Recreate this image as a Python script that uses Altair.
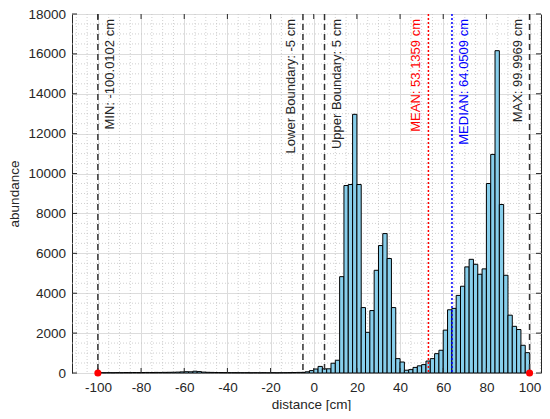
import altair as alt
import pandas as pd

FONT = "Liberation Sans"
AX = "#262626"

# ---------------- data ----------------
bin_width = 2
bin_starts = list(range(-100, 100, 2))
counts = [
    # -100 .. -8
    20, 15, 18, 15, 20, 18, 22, 20, 25, 22,
    25, 28, 25, 30, 28, 32, 35, 38, 45, 55,
    65, 60, 90, 70, 45, 35, 30, 25, 22, 20,
    18, 18, 15, 15, 15, 12, 15, 12, 15, 12,
    15, 12, 15, 18, 20, 25, 30,
    # -6 .. 98
    30, 60, 120, 200, 330, 210, 210, 490, 640,
    4830, 9400, 9450, 12970, 9450, 3280, 2040, 3130, 5150,
    6390, 6990, 5740, 3280, 720, 550, 140, 170, 280,
    360, 420, 600, 720, 970, 1140, 2150, 3170, 3240,
    3890, 4350, 5320, 5700, 5450, 4950, 5220, 9500, 10960,
    16160, 8450, 4900, 2900, 2340, 2180, 1390, 1020,
]

x_tick_values = [-100, -80, -60, -40, -20, 0, 20, 40, 60, 80, 100]
y_tick_values = [0, 2000, 4000, 6000, 8000, 10000, 12000, 14000, 16000, 18000]
x_minor_values = [v for v in range(-110, 106, 5) if v % 20 != 0]
y_minor_values = [v for v in range(0, 18001, 500) if v % 2000 != 0]

dash_values = [-100.0102, -5, 5, 99.9969]
dash_labels = ["MIN: -100.0102 cm", "Lower Boundary: -5 cm", "Upper Boundary: 5 cm", "MAX: 99.9969 cm"]
dash_sides = ["right", "left", "right", "left"]

stat_values = [53.1359, 64.0509]
stat_labels = ["MEAN: 53.1359 cm", "MEDIAN: 64.0509 cm"]
stat_colors = ["#ff0000", "#0000ff"]
stat_sides = ["left", "right"]

extreme_values = [-100.0102, 99.9969]
extreme_counts = [0, 0]

# ---------------- tables ----------------
hist = pd.DataFrame({
    "start": bin_starts,
    "end": [s + bin_width for s in bin_starts],
    "count": counts,
})
ann = pd.DataFrame({
    "x": dash_values + stat_values,
    "label": dash_labels + stat_labels,
    "color": [AX] * len(dash_values) + stat_colors,
    "side": dash_sides + stat_sides,
})
dash_df = pd.DataFrame({"x": dash_values})
stat_df = pd.DataFrame({"x": stat_values, "color": stat_colors})
xt = pd.DataFrame({"x": x_tick_values})
yt = pd.DataFrame({"count": y_tick_values})
xm = pd.DataFrame({"x": x_minor_values})
ym = pd.DataFrame({"count": y_minor_values})
ext = pd.DataFrame({"x": extreme_values, "count": extreme_counts})

W, H = 469, 359
xs = alt.Scale(domain=[-112, 105.3], nice=False, zero=False)
ys = alt.Scale(domain=[0, 18000], nice=False, zero=False)

xaxis = alt.Axis(
    values=x_tick_values, labelExpr="datum.value + ''", title="distance [cm]",
    grid=True, gridColor="#dcdcdc", gridWidth=1, ticks=False, tickSize=0, domain=False,
    labelFont=FONT, labelFontSize=13.5, labelColor=AX, labelPadding=7, labelFlush=False,
    titleFont=FONT, titleFontSize=13.5, titleFontWeight="normal", titleColor=AX,
    titleX=239, titleY=31.5, titleBaseline="middle", titleAlign="center")
yaxis = alt.Axis(
    values=y_tick_values, labelExpr="datum.value + ''", title="abundance",
    grid=True, gridColor="#dcdcdc", gridWidth=1, ticks=False, tickSize=0, domain=False,
    labelFont=FONT, labelFontSize=13.5, labelColor=AX, labelPadding=6.5, labelOverlap=False,
    titleFont=FONT, titleFontSize=13.5, titleFontWeight="normal", titleColor=AX,
    titleX=-57.5, titleY=H / 2, titleAngle=270, titleBaseline="middle", titleAlign="center")


def X(field):
    return alt.X(field, scale=xs, axis=xaxis, title="distance [cm]")


def Y(field):
    return alt.Y(field, scale=ys, axis=yaxis, title="abundance")


# minor grids
xminor = alt.Chart(xm).mark_rule(color="#c4c4c4", strokeDash=[1, 2], strokeWidth=0.8).encode(x=X("x:Q"))
yminor = alt.Chart(ym).mark_rule(color="#c4c4c4", strokeDash=[1, 2], strokeWidth=0.8).encode(y=Y("count:Q"))

bars = alt.Chart(hist).mark_bar(fill="#87CEEB", stroke="#000000", strokeWidth=1, opacity=1).encode(
    x=X("start:Q"), x2="end:Q", y=Y("count:Q"), y2=alt.datum(0))

dash_lines = alt.Chart(dash_df).mark_rule(color="#333333", strokeDash=[6, 4], strokeWidth=1.5).encode(
    x=X("x:Q"))
stat_lines = alt.Chart(stat_df).mark_rule(strokeDash=[2, 2], strokeWidth=1.5).encode(
    x=X("x:Q"), color=alt.Color("color:N", scale=None))

text_right = alt.Chart(ann).transform_filter("datum.side == 'right'").mark_text(
    angle=270, align="right", baseline="middle", dy=12, font=FONT, fontSize=13).encode(
    x=X("x:Q"), y=alt.value(5), text="label:N", color=alt.Color("color:N", scale=None))
text_left = alt.Chart(ann).transform_filter("datum.side == 'left'").mark_text(
    angle=270, align="right", baseline="middle", dy=-12, font=FONT, fontSize=13).encode(
    x=X("x:Q"), y=alt.value(5), text="label:N", color=alt.Color("color:N", scale=None))

dots = alt.Chart(ext).mark_point(filled=True, size=50, color="#ff0000", opacity=1).encode(
    x=X("x:Q"), y=Y("count:Q"))

tk = dict(color=AX, strokeWidth=1)
xt_bot = alt.Chart(xt).mark_rule(**tk).encode(x=X("x:Q"), y=alt.value(H), y2=alt.value(H - 5))
xt_top = alt.Chart(xt).mark_rule(**tk).encode(x=X("x:Q"), y=alt.value(0), y2=alt.value(5))
yt_left = alt.Chart(yt).mark_rule(**tk).encode(y=Y("count:Q"), x=alt.value(0), x2=alt.value(5))
yt_right = alt.Chart(yt).mark_rule(**tk).encode(y=Y("count:Q"), x=alt.value(W), x2=alt.value(W - 5))

chart = alt.layer(
    xminor, yminor, bars, dash_lines, stat_lines, text_right, text_left,
    xt_bot, xt_top, yt_left, yt_right, dots
).properties(
    width=W, height=H,
    padding={"left": 64, "top": 6, "right": 1, "bottom": 38},
    autosize=alt.AutoSizeParams(type="none"),
    background="white",
).configure_view(stroke=AX, strokeWidth=1)

chart.save("out.html", embed_options={"renderer": "svg", "actions": False})
